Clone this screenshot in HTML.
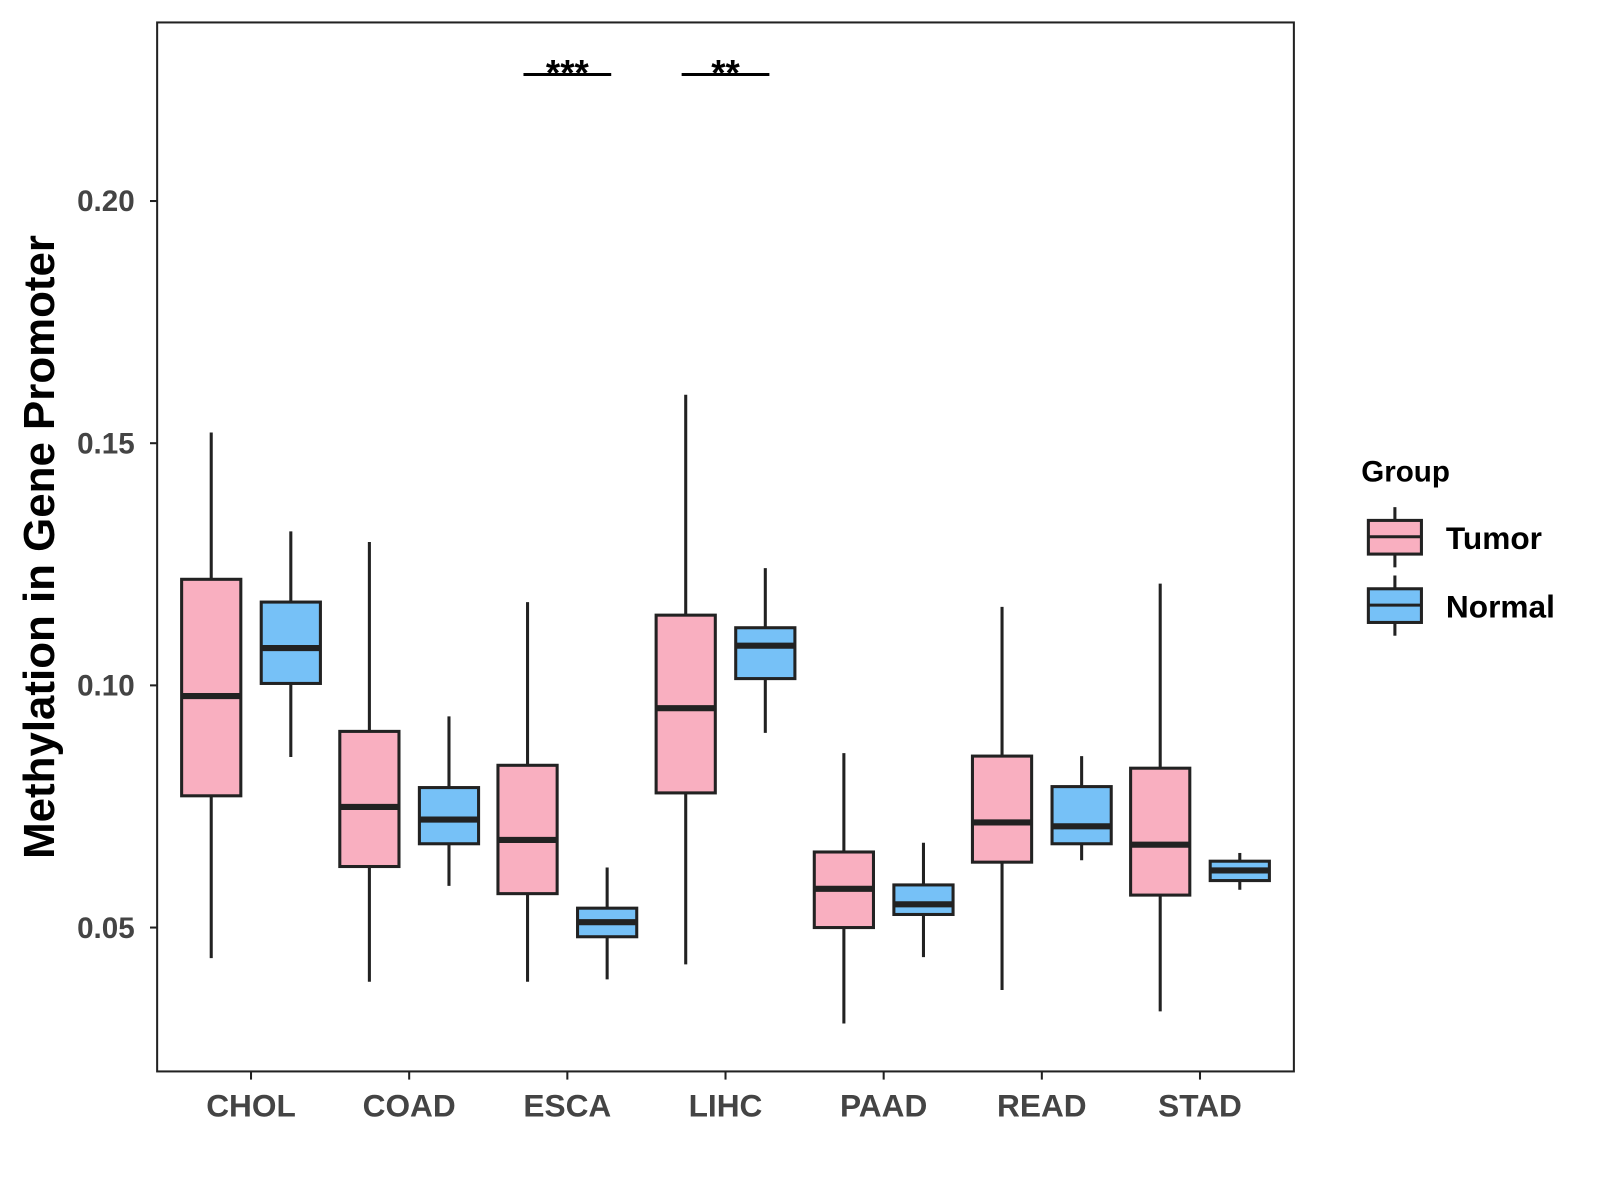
<!DOCTYPE html>
<html><head><meta charset="utf-8"><style>
html,body{margin:0;padding:0;background:#fff}
svg{display:block}
text{font-family:"Liberation Sans",Arial,sans-serif;font-weight:bold}
</style></head><body>
<svg id="chart" width="1600" height="1200" viewBox="0 0 1568 1176">
<rect x="154" y="22" width="1114" height="1028" fill="#fff" stroke="#222" stroke-width="2"/>
<g id="marks"></g>
<text x="0" y="0" transform="translate(53,536) rotate(-90)" text-anchor="middle" font-size="43" fill="#000">Methylation in Gene Promoter</text>
<text x="1334" y="472" font-size="29" fill="#000">Group</text>
<g>
<line x1="1367" y1="497" x2="1367" y2="556" stroke="#222" stroke-width="3"/>
<rect x="1341" y="510" width="52" height="33" fill="#F9AFC0" stroke="#222" stroke-width="3"/>
<line x1="1341" y1="526" x2="1393" y2="526" stroke="#222" stroke-width="3"/>
<text x="1417" y="538" font-size="31" fill="#000">Tumor</text>
</g>
<g>
<line x1="1367" y1="564" x2="1367" y2="623" stroke="#222" stroke-width="3"/>
<rect x="1341" y="577" width="52" height="33" fill="#76C1F7" stroke="#222" stroke-width="3"/>
<line x1="1341" y1="593" x2="1393" y2="593" stroke="#222" stroke-width="3"/>
<text x="1417" y="605" font-size="31" fill="#000">Normal</text>
</g>
</svg>
<script>
const categories=["CHOL","COAD","ESCA","LIHC","PAAD","READ","STAD"];
// [whiskerLow, q1, median, q3, whiskerHigh]
const tumorStats=[[0.0437,0.0772,0.0978,0.1219,0.1522],[0.0388,0.0626,0.0749,0.0905,0.1296],[0.0388,0.0570,0.0681,0.0835,0.1172],[0.0424,0.0778,0.0953,0.1145,0.1600],[0.0302,0.0500,0.0580,0.0656,0.0860],[0.0371,0.0635,0.0717,0.0854,0.1162],[0.0327,0.0567,0.0671,0.0829,0.1210]];
const normalStats=[[0.0852,0.1004,0.1077,0.1172,0.1318],[0.0586,0.0673,0.0723,0.0789,0.0936],[0.0393,0.0481,0.0511,0.0540,0.0624],[0.0902,0.1014,0.1082,0.1119,0.1242],[0.0439,0.0527,0.0548,0.0588,0.0675],[0.0639,0.0673,0.0709,0.0791,0.0854],[0.0578,0.0597,0.0618,0.0637,0.0654]];
const yTicks=[0.05,0.10,0.15,0.20];
const yTickLabels=["0.05","0.10","0.15","0.20"];
const sigCategories=["ESCA","LIHC"];
const sigLabels=["***","**"];
const NS="http://www.w3.org/2000/svg";
const g=document.getElementById('marks');
function y(v){return 909-(v-0.05)/0.05*237.33;}
function x(i){return 246+i*155;}
function mk(t,a){const e=document.createElementNS(NS,t);for(const k in a)e.setAttribute(k,a[k]);g.appendChild(e);return e;}
yTicks.forEach((v,i)=>{
  const t=mk('line',{x1:147,x2:154,y1:y(v),y2:y(v),stroke:'#222','stroke-width':2});
  
  
  const l=mk('text',{x:132,y:y(v)+10,'text-anchor':'end','font-size':29,fill:'#444'});
  l.textContent=yTickLabels[i];
  
  
});
categories.forEach((c,i)=>{
  const t=mk('line',{x1:x(i),x2:x(i),y1:1050,y2:1058,stroke:'#222','stroke-width':2});
  
  
  const l=mk('text',{x:x(i),y:1094,'text-anchor':'middle','font-size':31,fill:'#444'});
  l.textContent=c;
  
  
  [[tumorStats[i],-39,'#F9AFC0','tumor'],[normalStats[i],39,'#76C1F7','normal']].forEach(([s,off,col,nm])=>{
    const cx=x(i)+off,w=58;
    const wl=mk('line',{x1:cx,x2:cx,y1:y(s[0]),y2:y(s[4]),stroke:'#222','stroke-width':3});
    
    
    const b=mk('rect',{x:cx-w/2,y:y(s[3]),width:w,height:y(s[1])-y(s[3]),fill:col,stroke:'#222','stroke-width':3});
    
    
    const m=mk('line',{x1:cx-w/2,x2:cx+w/2,y1:y(s[2]),y2:y(s[2]),stroke:'#222','stroke-width':6});
    
    
  });
});
sigCategories.forEach((c,k)=>{
  const i=categories.indexOf(c);
  const ln=mk('line',{x1:x(i)-43,x2:x(i)+43,y1:73,y2:73,stroke:'#000','stroke-width':3});
  
  
  const t=mk('text',{x:x(i),y:84,'text-anchor':'middle','font-size':36,fill:'#000'});
  t.textContent=sigLabels[k];
  
  
});
</script>
</body></html>
